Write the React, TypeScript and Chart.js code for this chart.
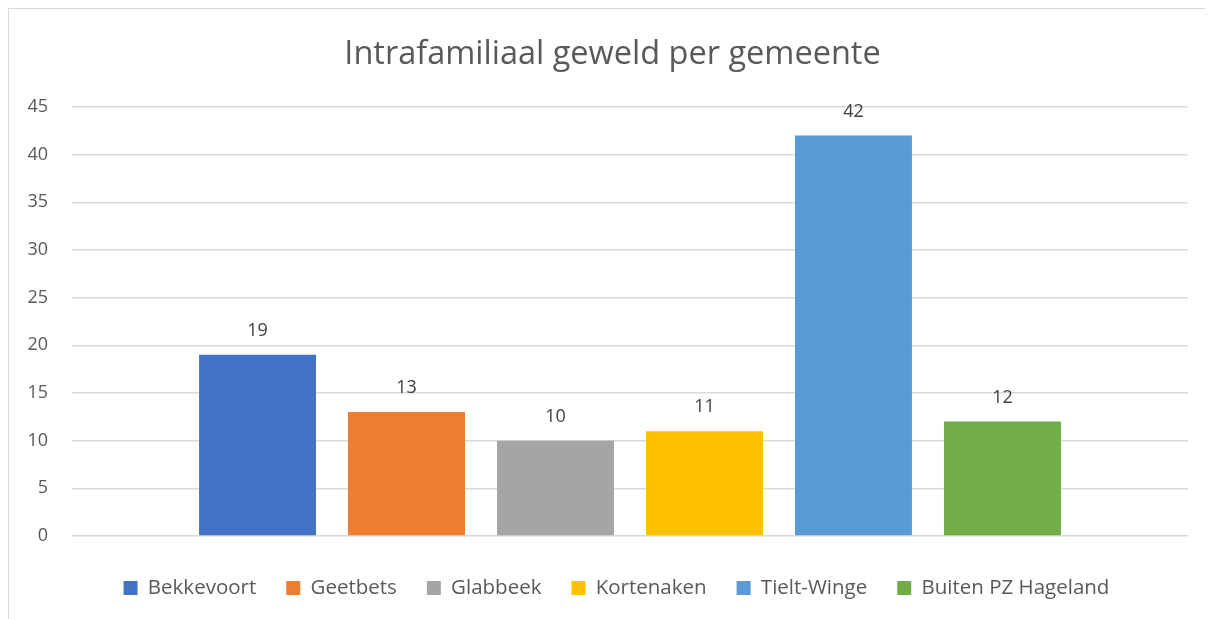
import React, { useEffect, useRef } from "react";
import { Chart, registerables } from "chart.js";

Chart.register(...registerables);

const TITLE = "Intrafamiliaal geweld per gemeente";
const CATEGORIES = [""];
const SERIES_NAMES = ["Bekkevoort", "Geetbets", "Glabbeek", "Kortenaken", "Tielt-Winge", "Buiten PZ Hageland"];
const SERIES_VALUES = [19, 13, 10, 11, 42, 12];
const SERIES_COLORS = ["#4472C4", "#ED7D31", "#A5A5A5", "#FFC000", "#5B9BD5", "#70AD47"];
const Y_MIN = 0;
const Y_MAX = 45;
const Y_STEP = 5;

const FONT = "'Open Sans', 'Noto Sans', sans-serif";

const dataLabels = {
  id: "dataLabels",
  afterDatasetsDraw(chart: any) {
    const ctx = chart.ctx;
    ctx.save();
    ctx.font = `18px ${FONT}`;
    ctx.fillStyle = "#404040";
    ctx.textAlign = "center";
    ctx.textBaseline = "middle";
    chart.data.datasets.forEach((ds: any, i: number) => {
      const meta = chart.getDatasetMeta(i);
      meta.data.forEach((bar: any, j: number) => {
        ctx.fillText(String(ds.data[j]), bar.x, bar.y - 24);
      });
    });
    ctx.restore();
  },
};

const boxShift = {
  id: "boxShift",
  afterLayout(chart: any) {
    const lg = chart.legend;
    if (lg) {
      lg.left += 18;
      lg.right += 18;
    }
    const tb = chart.titleBlock;
    if (tb) {
      tb.left += 14;
      tb.right += 14;
    }
  },
};

export default function App() {
  const ref = useRef<HTMLCanvasElement | null>(null);
  useEffect(() => {
    if (!ref.current) return;
    const chart = new Chart(ref.current, {
      type: "bar",
      data: {
        labels: CATEGORIES,
        datasets: SERIES_NAMES.map((name, i) => ({
          label: name,
          data: [SERIES_VALUES[i]],
          backgroundColor: SERIES_COLORS[i],
          borderWidth: 0,
          categoryPercentage: 0.801,
          barPercentage: 0.785,
        })),
      },
      options: {
        animation: false,
        responsive: false,
        maintainAspectRatio: false,
        layout: { padding: { left: 0, right: 25, top: 0, bottom: 10.75 } },
        plugins: {
          title: {
            display: true,
            text: TITLE,
            color: "#595959",
            font: { family: FONT, size: 32.5, weight: "normal" as any, lineHeight: 1.2 },
            padding: { top: 26, bottom: 33 },
          },
          legend: {
            position: "bottom",
            labels: {
              color: "#595959",
              font: { family: FONT, size: 20.5 },
              boxWidth: 14,
              boxHeight: 14,
              padding: 30,
            },
          },
          tooltip: { enabled: false },
        },
        scales: {
          x: {
            grid: { display: false },
            border: { display: false },
            ticks: { display: false },
            afterFit(scale: any) {
              scale.height = 11.75;
            },
          },
          y: {
            min: Y_MIN,
            max: Y_MAX,
            ticks: {
              stepSize: Y_STEP,
              color: "#595959",
              font: { family: FONT, size: 18 },
              padding: 24,
            },
            grid: { color: "#d9d9d9", lineWidth: 1.5, drawTicks: false },
            border: { display: false },
            afterFit(scale: any) {
              scale.width = 63;
            },
          },
        },
      },
      plugins: [dataLabels, boxShift],
    });
    return () => chart.destroy();
  }, []);
  return (
    <div
      style={{
        borderTop: "1px solid #d9d9d9",
        borderLeft: "1px solid #d9d9d9",
        width: 1204,
        height: 610,
        background: "#fff",
      }}
    >
      <canvas ref={ref} width={1204} height={610} style={{ display: "block" }} />
    </div>
  );
}
